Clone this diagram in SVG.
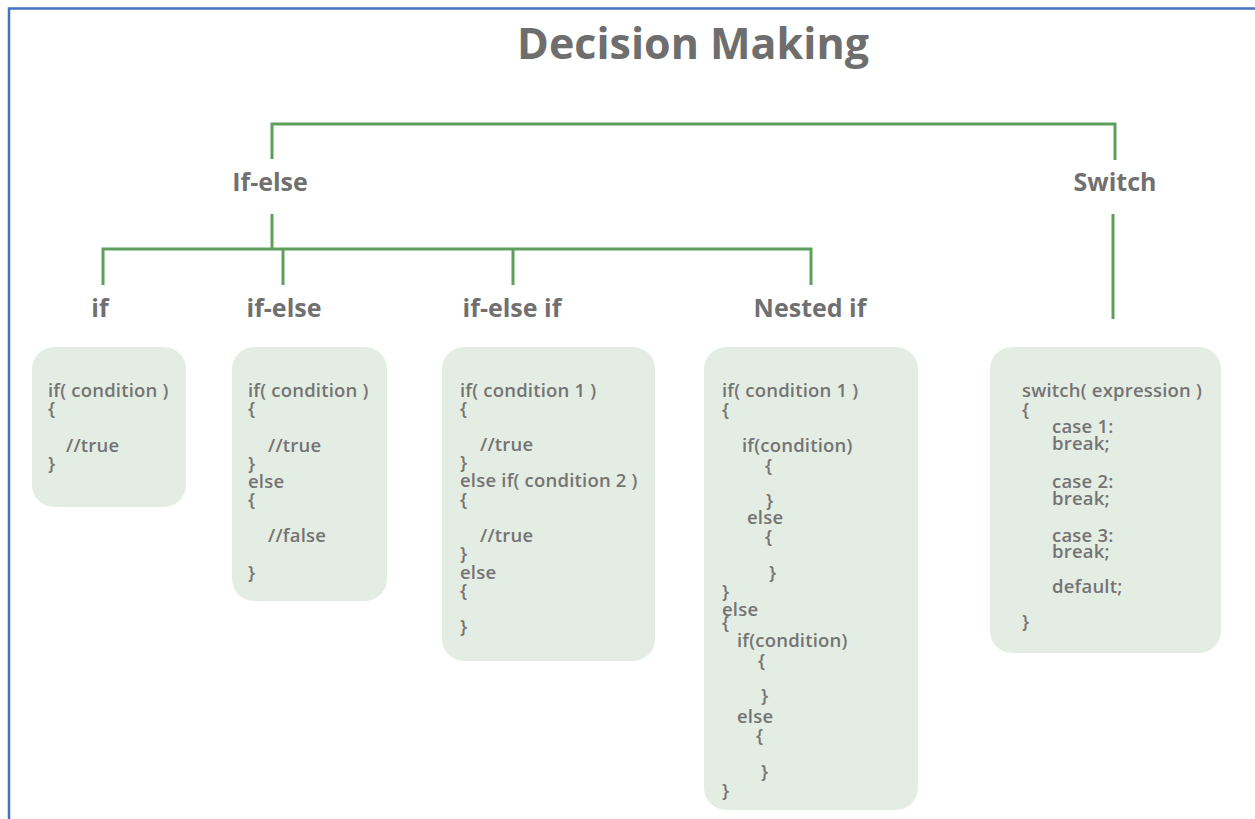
<svg xmlns="http://www.w3.org/2000/svg" width="1255" height="819" viewBox="0 0 1255 819">
<style>
.bg{fill:#ffffff}
.frame{stroke:#4472c4;stroke-width:2.5;fill:none}
.title{font-family:"Open Sans","Liberation Sans",sans-serif;font-weight:700;font-size:43px;fill:#6e6e6e;text-anchor:middle}
.lbl{font-family:"Open Sans","Liberation Sans",sans-serif;font-weight:700;font-size:25px;fill:#707070;text-anchor:middle}
.box{fill:#e4ede3}
.code{font-family:"Open Sans","Liberation Sans",sans-serif;font-weight:600;font-size:18.5px;letter-spacing:0.2px;fill:#747474}
.conn{stroke:#5e9f5c;stroke-width:3;fill:none}
</style>
<rect class="bg" x="0" y="0" width="1255" height="819"/>
<path class="frame" d="M9,819 V8.5 H1255"/>
<text id="title" class="title" x="693" y="59">Decision Making</text>
<g id="connectors">
<path class="conn" d="M272,159 V124 H1115 V160"/>
<path class="conn" d="M272,214 V249"/>
<path class="conn" d="M103,285 V249 H811 V285"/>
<path class="conn" d="M283,249 V285"/>
<path class="conn" d="M513,249 V285"/>
<path class="conn" d="M1113,214 V319"/>
</g>
<g id="node-ifelse-group"><text class="lbl" x="270" y="191">If-else</text></g>
<g id="node-switch"><text class="lbl" x="1115" y="191">Switch</text></g>
<g id="node-if"><text class="lbl" x="100" y="317">if</text></g>
<g id="node-ifelse"><text class="lbl" x="284" y="317">if-else</text></g>
<g id="node-ifelseif"><text class="lbl" x="512" y="317">if-else if</text></g>
<g id="node-nestedif"><text class="lbl" x="810" y="317">Nested if</text></g>
<g id="box-if">
<rect class="box" x="32" y="347" width="154" height="160" rx="22"/>
<text class="code" x="48" y="397">if( condition )</text>
<text class="code" x="48" y="415">{</text>
<text class="code" x="66" y="452">//true</text>
<text class="code" x="48" y="470">}</text>
</g>
<g id="box-ifelse">
<rect class="box" x="232" y="347" width="155" height="254" rx="22"/>
<text class="code" x="248" y="397">if( condition )</text>
<text class="code" x="248" y="415">{</text>
<text class="code" x="268" y="452">//true</text>
<text class="code" x="248" y="470">}</text>
<text class="code" x="248" y="488">else</text>
<text class="code" x="248" y="506">{</text>
<text class="code" x="268" y="542">//false</text>
<text class="code" x="248" y="579">}</text>
</g>
<g id="box-ifelseif">
<rect class="box" x="442" y="347" width="213" height="314" rx="22"/>
<text class="code" x="460" y="397">if( condition 1 )</text>
<text class="code" x="460" y="415">{</text>
<text class="code" x="480" y="451">//true</text>
<text class="code" x="460" y="469">}</text>
<text class="code" x="460" y="487">else if( condition 2 )</text>
<text class="code" x="460" y="506">{</text>
<text class="code" x="480" y="542">//true</text>
<text class="code" x="460" y="560">}</text>
<text class="code" x="460" y="579">else</text>
<text class="code" x="460" y="597">{</text>
<text class="code" x="460" y="633">}</text>
</g>
<g id="box-nestedif">
<rect class="box" x="704" y="347" width="214" height="463" rx="22"/>
<text class="code" x="722" y="397">if( condition 1 )</text>
<text class="code" x="722" y="416">{</text>
<text class="code" x="742" y="452">if(condition)</text>
<text class="code" x="765" y="472">{</text>
<text class="code" x="766" y="507">}</text>
<text class="code" x="747" y="524">else</text>
<text class="code" x="765" y="543">{</text>
<text class="code" x="769" y="579">}</text>
<text class="code" x="722" y="598">}</text>
<text class="code" x="722" y="616">else</text>
<text class="code" x="722" y="629">{</text>
<text class="code" x="737" y="647">if(condition)</text>
<text class="code" x="758" y="667">{</text>
<text class="code" x="761" y="702">}</text>
<text class="code" x="737" y="723">else</text>
<text class="code" x="756" y="742">{</text>
<text class="code" x="761" y="778">}</text>
<text class="code" x="722" y="797">}</text>
</g>
<g id="box-switch">
<rect class="box" x="990" y="347" width="231" height="306" rx="22"/>
<text class="code" x="1022" y="397">switch( expression )</text>
<text class="code" x="1022" y="416">{</text>
<text class="code" x="1052" y="433">case 1:</text>
<text class="code" x="1052" y="450">break;</text>
<text class="code" x="1052" y="488">case 2:</text>
<text class="code" x="1052" y="505">break;</text>
<text class="code" x="1052" y="542">case 3:</text>
<text class="code" x="1052" y="558">break;</text>
<text class="code" x="1052" y="593">default;</text>
<text class="code" x="1022" y="628">}</text>
</g>
</svg>
